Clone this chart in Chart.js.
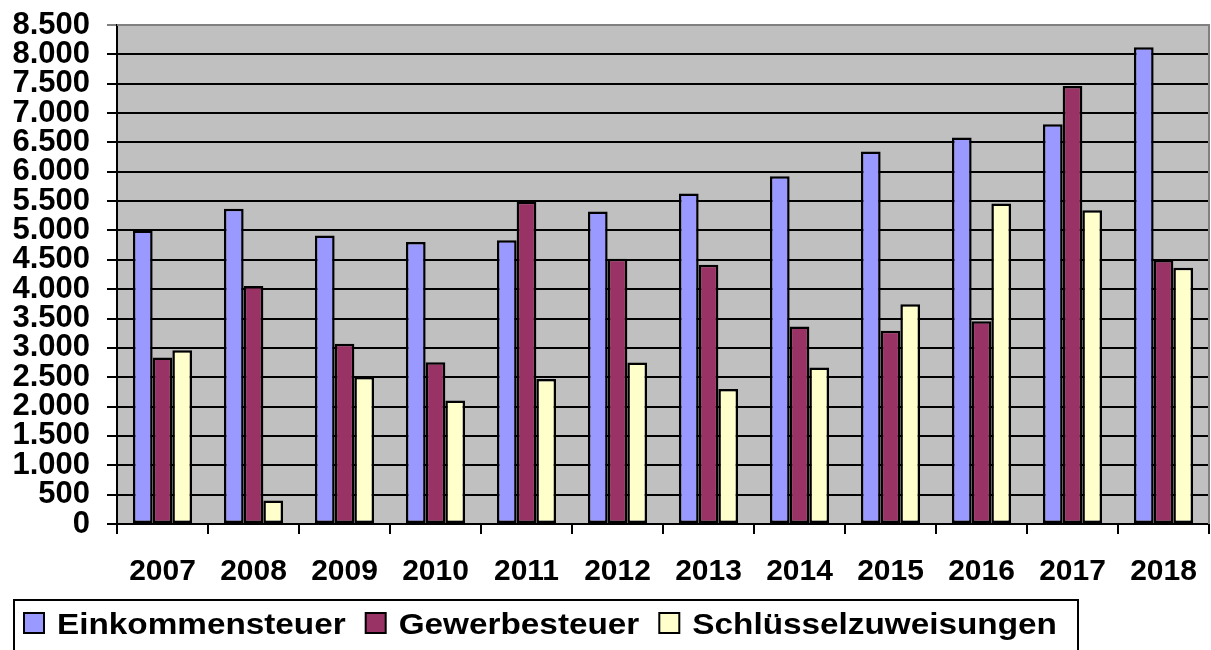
<!DOCTYPE html>
<html>
<head>
<meta charset="utf-8">
<script src="https://cdn.jsdelivr.net/npm/chart.js@4/dist/chart.umd.min.js"></script>
<style>
body{margin:0;background:#fff;}
#grafico{display:block;}
</style>
</head>
<body>
<canvas id="grafico" width="1211" height="650"></canvas>
<script>
var jahre = ["2007","2008","2009","2010","2011","2012","2013","2014","2015","2016","2017","2018"];
var einkommensteuer = [5000,5370,4915,4805,4835,5325,5630,5925,6345,6585,6810,8120];
var gewerbesteuer = [2835,4055,3070,2755,5490,4520,4415,3365,3290,3455,7460,4495];
var schluessel = [2960,400,2505,2105,2470,2750,2300,2665,3745,5460,5345,4365];
var serien = ["Einkommensteuer","Gewerbesteuer","Schlüsselzuweisungen"];
var farben = ["#9999ff","#993366","#ffffcc"];

var schrift = "'Liberation Sans', Arial, sans-serif";

function tausender(v){
    return String(v).replace(/\B(?=(\d{3})+(?!\d))/g, ".");
}

var hintergrund = {
    id:'hintergrund',
    beforeDraw:function(chart){
        var ctx = chart.ctx, a = chart.chartArea;
        ctx.save();
        ctx.fillStyle = "#fff";
        ctx.fillRect(0,0,chart.width,chart.height);
        ctx.fillStyle = "#c0c0c0";
        ctx.fillRect(a.left,a.top,a.right-a.left,a.bottom-a.top);
        ctx.restore();
    },
    afterDatasetsDraw:function(chart){
        var ctx = chart.ctx, a = chart.chartArea;
        ctx.save();
        ctx.strokeStyle = "#808080";
        ctx.lineWidth = 2;
        ctx.beginPath();
        ctx.moveTo(a.left,a.top);
        ctx.lineTo(a.right,a.top);
        ctx.lineTo(a.right,a.bottom);
        ctx.stroke();
        ctx.restore();
    }
};

var legende = {
    id:'legende',
    afterDraw:function(chart){
        var ctx = chart.ctx;
        var ds = chart.data.datasets;
        var x = 24, y = 613, streck = 1.11;
        ctx.save();
        ctx.strokeStyle = "#000";
        ctx.lineWidth = 2;
        ctx.strokeRect(14,600,1064,60);
        ctx.font = "bold 30px " + schrift;
        ctx.textBaseline = "alphabetic";
        for (var i = 0; i < ds.length; i++){
            ctx.fillStyle = ds[i].backgroundColor;
            ctx.fillRect(x,y,20,20);
            ctx.lineWidth = 2;
            ctx.strokeRect(x,y,20,20);
            var tx = x + 33;
            var w = ctx.measureText(ds[i].label).width * streck;
            ctx.save();
            ctx.translate(tx,634);
            ctx.scale(streck,1);
            ctx.fillStyle = "#000";
            ctx.fillText(ds[i].label,0,0);
            ctx.restore();
            x = tx + w + 20;
        }
        ctx.restore();
    }
};

var daten = {
    labels: jahre,
    datasets: [
        {label: serien[0], data: einkommensteuer, backgroundColor: farben[0]},
        {label: serien[1], data: gewerbesteuer, backgroundColor: farben[1]},
        {label: serien[2], data: schluessel, backgroundColor: farben[2]}
    ]
};
daten.datasets.forEach(function(d){
    d.borderColor = "#000";
    d.borderWidth = 2.5;
    d.borderSkipped = false;
    d.categoryPercentage = 0.65;
    d.barPercentage = 1;
});

var ctxGraf = document.getElementById('grafico').getContext("2d");
var meinChart = new Chart(ctxGraf,{
    type:'bar',
    data:daten,
    plugins:[hintergrund,legende],
    options:{
        responsive:false,
        animation:false,
        layout:{padding:{top:25,right:2,left:0,bottom:0}},
        plugins:{legend:{display:false},tooltip:{enabled:false}},
        scales:{
            x:{
                grid:{drawOnChartArea:false,drawTicks:true,tickLength:10,color:"#000",lineWidth:2},
                border:{color:"#000",width:2},
                ticks:{color:"#000",padding:20,font:{family:schrift,size:30,weight:'bold'}},
                afterFit:function(s){ s.height = 126; s.paddingLeft = 0; s.paddingRight = 0; }
            },
            y:{
                min:0,
                max:8500,
                grid:{
                    color:function(c){ return c.tick && c.tick.value === 8500 ? "#808080" : "#000"; },
                    lineWidth:2,
                    tickLength:10
                },
                border:{color:"#000",width:2},
                ticks:{
                    stepSize:500,
                    autoSkip:false,
                    color:"#000",
                    padding:17,
                    font:{family:schrift,size:31,weight:'bold'},
                    callback:function(v){ return tausender(v); }
                },
                afterFit:function(s){ s.width = 117; s.paddingTop = 0; s.paddingBottom = 0; }
            }
        }
    }
});
</script>
</body>
</html>
